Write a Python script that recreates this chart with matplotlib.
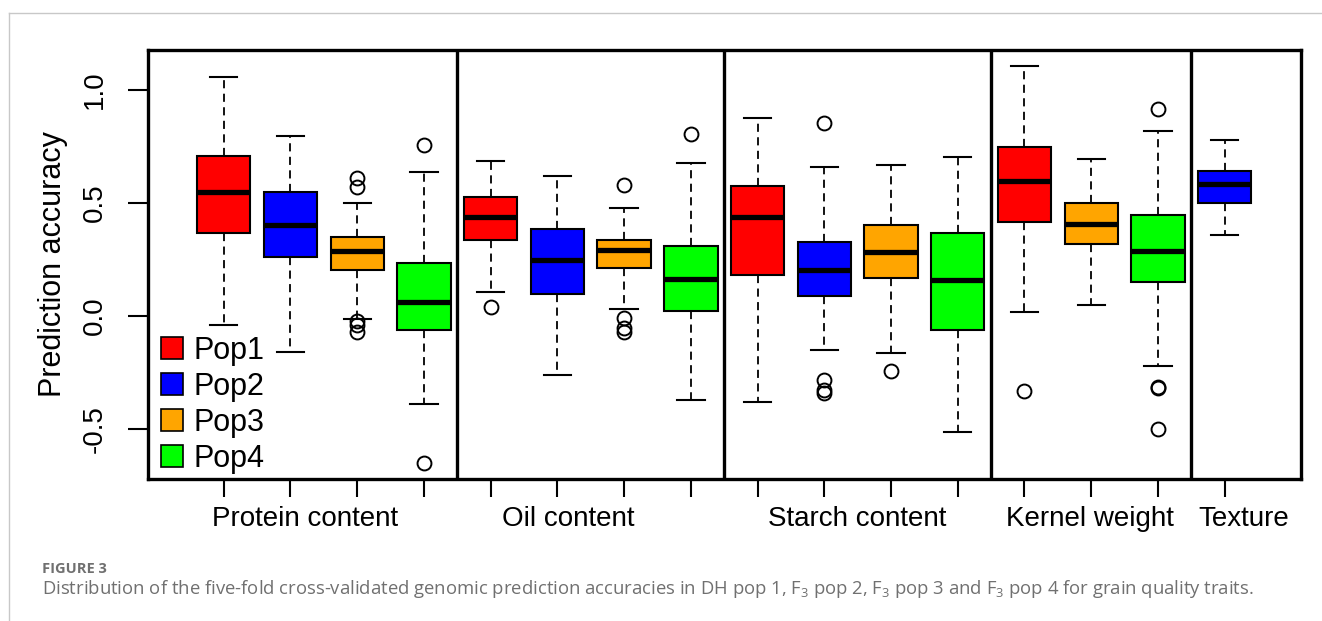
import matplotlib
matplotlib.use("Agg")
from matplotlib import pyplot as plt
from matplotlib.lines import Line2D
from matplotlib.patches import Patch
from matplotlib.transforms import blended_transform_factory

plt.rcParams["font.family"] = ["Liberation Sans", "DejaVu Sans"]
plt.rcParams["mathtext.fontset"] = "custom"
plt.rcParams["mathtext.rm"] = "Open Sans"
plt.rcParams["mathtext.default"] = "regular"

# one entry per box, left to right
traits = ["Protein content", "Oil content", "Starch content", "Kernel weight", "Texture"]
pops = ["Pop1", "Pop2", "Pop3", "Pop4"]
box_trait = [0, 0, 0, 0, 1, 1, 1, 1, 2, 2, 2, 2, 3, 3, 3, 4]
box_pop = [0, 1, 2, 3, 0, 1, 2, 3, 0, 1, 2, 3, 0, 2, 3, 1]
whislo = [-0.04, -0.161, -0.013, -0.391, 0.108, -0.26, 0.03, -0.372,
          -0.381, -0.152, -0.162, -0.512, 0.018, 0.047, -0.22, 0.358]
q1 = [0.367, 0.262, 0.204, -0.062, 0.336, 0.097, 0.211, 0.024,
      0.183, 0.088, 0.167, -0.062, 0.417, 0.32, 0.149, 0.501]
med = [0.547, 0.403, 0.289, 0.063, 0.438, 0.246, 0.292, 0.164,
       0.438, 0.202, 0.283, 0.158, 0.597, 0.408, 0.289, 0.583]
q3 = [0.708, 0.547, 0.348, 0.233, 0.528, 0.386, 0.336, 0.311,
      0.574, 0.327, 0.404, 0.367, 0.746, 0.499, 0.448, 0.643]
whishi = [1.056, 0.796, 0.499, 0.636, 0.686, 0.618, 0.476, 0.677,
          0.876, 0.658, 0.667, 0.705, 1.108, 0.696, 0.817, 0.777]
fliers = [[], [], [0.612, 0.572, -0.02, -0.04, -0.069], [0.757, -0.649],
          [0.041], [], [0.578, -0.01, -0.055, -0.069], [0.805],
          [], [0.855, -0.283, -0.327, -0.342], [-0.242], [],
          [-0.33], [], [0.916, -0.313, -0.32, -0.501],
          []]

pop_colors = ["#FF0000", "#0000FF", "#FFA500", "#00FF00"]
trait_label_x = [2.22, 6.16, 10.49, 13.98, 16.29]

stats = [
    dict(whislo=whislo[i], q1=q1[i], med=med[i], q3=q3[i], whishi=whishi[i], fliers=fliers[i])
    for i in range(len(med))
]
positions = list(range(1, len(stats) + 1))

fig = plt.figure(figsize=(13.22, 6.21), dpi=100)
ax = fig.add_axes([0.1117, 0.2287, 0.8722, 0.6908])

bp = ax.bxp(
    stats,
    positions=positions,
    widths=0.8,
    capwidths=0.41,
    patch_artist=True,
    boxprops=dict(linewidth=1.5, edgecolor="black"),
    medianprops=dict(linewidth=3.8, color="black", solid_capstyle="butt"),
    whiskerprops=dict(linewidth=1.3, color="black", linestyle=(0, (4.5, 3))),
    capprops=dict(linewidth=1.5, color="black"),
    flierprops=dict(marker="o", markersize=10, markerfacecolor="none",
                    markeredgecolor="black", markeredgewidth=1.4),
)
for patch, p in zip(bp["boxes"], box_pop):
    patch.set_facecolor(pop_colors[p])

# separators between traits
for i in range(1, len(box_trait)):
    if box_trait[i] != box_trait[i - 1]:
        ax.axvline(i + 0.5, color="black", linewidth=2.4)

ax.set_xlim(-0.14, 17.14)
ax.set_ylim(-0.721, 1.177)
for s in ax.spines.values():
    s.set_linewidth(2.4)

ax.set_xticks(positions)
ax.set_xticklabels([])
ax.tick_params(axis="x", length=13, width=1.5)
ax.set_yticks([-0.5, 0.0, 0.5, 1.0])
ax.set_yticklabels(["-0.5", "0.0", "0.5", "1.0"], rotation=90, va="center")
ax.tick_params(axis="y", length=14.4, width=1.5, labelsize=20, pad=14)

trans = blended_transform_factory(ax.transData, ax.transAxes)
for name, x in zip(traits, trait_label_x):
    ax.text(x, -0.093, name, transform=trans, ha="center", va="center", fontsize=20)

fig.text(53 / 1322, 1 - 264 / 621, "Prediction accuracy", rotation=90,
         ha="center", va="center", fontsize=22)

handles = [Patch(facecolor=c, edgecolor="black", linewidth=1.2) for c in pop_colors]
ax.legend(handles, pops, loc="lower left", bbox_to_anchor=(0.0115, 0.0117),
          frameon=False, fontsize=22, handlelength=0.72, handleheight=0.72,
          handletextpad=0.33, labelspacing=0.2, borderpad=0, borderaxespad=0)

# page furniture around the figure
fig.add_artist(Line2D([9 / 1322, 1], [1 - 13 / 621] * 2, color="#c8c8c8", linewidth=1))
fig.add_artist(Line2D([9 / 1322] * 2, [0, 1 - 13 / 621], color="#c8c8c8", linewidth=1))
fig.text(42 / 1322, 1 - 569 / 621, "FIGURE 3", family="Open Sans", fontweight="bold",
         fontsize=10.5, color="#707070", va="center")
fig.text(42 / 1322, 1 - 589 / 621,
         "Distribution of the five-fold cross-validated genomic prediction accuracies in "
         "DH pop 1, F$_3$ pop 2, F$_3$ pop 3 and F$_3$ pop 4 for grain quality traits.",
         family="Open Sans", fontsize=13.3, color="#707070", va="center")

fig.savefig("out.png", dpi=100)
plt.close(fig)
